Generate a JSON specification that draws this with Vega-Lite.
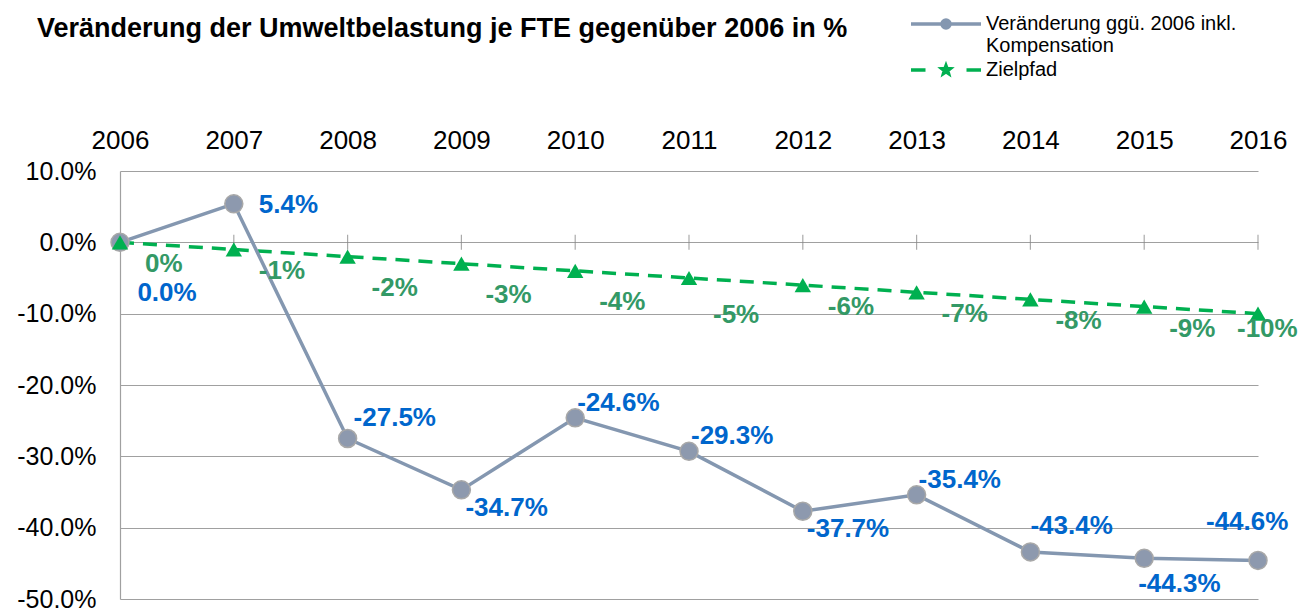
{
  "$schema": "https://vega.github.io/schema/vega-lite/v6.json",
  "width": 1138,
  "height": 428,
  "autosize": {"type": "none"},
  "padding": {"left": 120, "top": 171, "right": 40, "bottom": 11},
  "background": "white",
  "config": {"view": {"stroke": null}},
  "title": {
    "text": "Veränderung der Umweltbelastung je FTE gegenüber 2006 in %",
    "anchor": "start",
    "frame": "group",
    "dx": -83,
    "offset": -50,
    "baseline": "alphabetic",
    "font": "Liberation Sans",
    "fontSize": 27,
    "fontWeight": "bold",
    "color": "#000000"
  },
  "data": {
    "values": [
      {"year": 2006, "series": "Veränderung ggü. 2006 inkl. Kompensation", "value": 0.0},
      {"year": 2007, "series": "Veränderung ggü. 2006 inkl. Kompensation", "value": 5.4},
      {"year": 2008, "series": "Veränderung ggü. 2006 inkl. Kompensation", "value": -27.5},
      {"year": 2009, "series": "Veränderung ggü. 2006 inkl. Kompensation", "value": -34.7},
      {"year": 2010, "series": "Veränderung ggü. 2006 inkl. Kompensation", "value": -24.6},
      {"year": 2011, "series": "Veränderung ggü. 2006 inkl. Kompensation", "value": -29.3},
      {"year": 2012, "series": "Veränderung ggü. 2006 inkl. Kompensation", "value": -37.7},
      {"year": 2013, "series": "Veränderung ggü. 2006 inkl. Kompensation", "value": -35.4},
      {"year": 2014, "series": "Veränderung ggü. 2006 inkl. Kompensation", "value": -43.4},
      {"year": 2015, "series": "Veränderung ggü. 2006 inkl. Kompensation", "value": -44.3},
      {"year": 2016, "series": "Veränderung ggü. 2006 inkl. Kompensation", "value": -44.6},
      {"year": 2006, "series": "Zielpfad", "value": 0},
      {"year": 2007, "series": "Zielpfad", "value": -1},
      {"year": 2008, "series": "Zielpfad", "value": -2},
      {"year": 2009, "series": "Zielpfad", "value": -3},
      {"year": 2010, "series": "Zielpfad", "value": -4},
      {"year": 2011, "series": "Zielpfad", "value": -5},
      {"year": 2012, "series": "Zielpfad", "value": -6},
      {"year": 2013, "series": "Zielpfad", "value": -7},
      {"year": 2014, "series": "Zielpfad", "value": -8},
      {"year": 2015, "series": "Zielpfad", "value": -9},
      {"year": 2016, "series": "Zielpfad", "value": -10}
    ]
  },
  "transform": [
    {"calculate": "(datum.value < 0 ? '-' : '') + format(abs(datum.value), datum.series == 'Zielpfad' ? 'd' : '.1f') + '%'", "as": "lbl"}
  ],
  "encoding": {
    "x": {
      "field": "year", "type": "quantitative",
      "scale": {"domain": [2006, 2016], "nice": false, "zero": false},
      "axis": {
        "orient": "top", "values": [2006, 2007, 2008, 2009, 2010, 2011, 2012, 2013, 2014, 2015, 2016],
        "format": "d", "title": null, "domain": false, "ticks": false, "grid": false,
        "labelFont": "Liberation Sans", "labelFontSize": 26, "labelColor": "#000000",
        "labelPadding": 18, "labelFlush": false, "labelOverlap": false
      }
    },
    "y": {
      "field": "value", "type": "quantitative",
      "scale": {"domain": [-50, 10], "nice": false, "zero": false},
      "axis": {
        "values": [-50, -40, -30, -20, -10, 0, 10],
        "labelExpr": "(datum.value < 0 ? '-' : '') + format(abs(datum.value), '.1f') + '%'",
        "title": null, "domain": true, "domainColor": "#A0A0A0", "domainWidth": 1.2,
        "ticks": false, "grid": true, "gridColor": "#A0A0A0", "gridWidth": 1.2,
        "labelFont": "Liberation Sans", "labelFontSize": 25, "labelColor": "#000000",
        "labelPadding": 24
      }
    }
  },
  "layer": [
    {
      "transform": [{"filter": "datum.series == 'Zielpfad'"}],
      "mark": {"type": "tick", "orient": "vertical", "size": 15, "thickness": 1.2, "color": "#868686"},
      "encoding": {"y": {"datum": 0}}
    },
    {
      "transform": [{"filter": "datum.series == 'Zielpfad'"}],
      "mark": {"type": "line", "color": "#00B050", "strokeWidth": 3.5, "strokeDash": [14, 9]}
    },
    {
      "transform": [{"filter": "datum.series != 'Zielpfad'"}],
      "mark": {"type": "line", "color": "#8497B0", "strokeWidth": 3.5}
    },
    {
      "transform": [{"filter": "datum.series != 'Zielpfad'"}],
      "mark": {"type": "point", "shape": "circle", "filled": true, "size": 324, "fill": "#8D99AE", "stroke": "#A8A8A8", "strokeWidth": 1.5, "opacity": 1}
    },
    {
      "transform": [{"filter": "datum.series == 'Zielpfad'"}],
      "mark": {"type": "point", "shape": "triangle-up", "filled": true, "size": 270, "color": "#00B050", "opacity": 1}
    },
    {
      "transform": [{"filter": "datum.series != 'Zielpfad' && datum.year == 2006"}],
      "mark": {"type": "text", "align": "center", "baseline": "middle", "dx": 47, "dy": 51, "font": "Liberation Sans", "fontSize": 26, "fontWeight": "bold", "color": "#0066CC"},
      "encoding": {"text": {"field": "lbl"}}
    },
    {
      "transform": [{"filter": "datum.series != 'Zielpfad' && datum.year == 2007"}],
      "mark": {"type": "text", "align": "left", "baseline": "middle", "dx": 25, "dy": 1, "font": "Liberation Sans", "fontSize": 26, "fontWeight": "bold", "color": "#0066CC"},
      "encoding": {"text": {"field": "lbl"}}
    },
    {
      "transform": [{"filter": "datum.series != 'Zielpfad' && datum.year == 2008"}],
      "mark": {"type": "text", "align": "left", "baseline": "middle", "dx": 6, "dy": -21, "font": "Liberation Sans", "fontSize": 26, "fontWeight": "bold", "color": "#0066CC"},
      "encoding": {"text": {"field": "lbl"}}
    },
    {
      "transform": [{"filter": "datum.series != 'Zielpfad' && (datum.year == 2009 || datum.year == 2012)"}],
      "mark": {"type": "text", "align": "left", "baseline": "middle", "dx": 4, "dy": 18, "font": "Liberation Sans", "fontSize": 26, "fontWeight": "bold", "color": "#0066CC"},
      "encoding": {"text": {"field": "lbl"}}
    },
    {
      "transform": [{"filter": "datum.series != 'Zielpfad' && (datum.year == 2010 || datum.year == 2011 || datum.year == 2013)"}],
      "mark": {"type": "text", "align": "left", "baseline": "middle", "dx": 2, "dy": -15, "font": "Liberation Sans", "fontSize": 26, "fontWeight": "bold", "color": "#0066CC"},
      "encoding": {"text": {"field": "lbl"}}
    },
    {
      "transform": [{"filter": "datum.series != 'Zielpfad' && datum.year == 2014"}],
      "mark": {"type": "text", "align": "left", "baseline": "middle", "dx": 0, "dy": -26, "font": "Liberation Sans", "fontSize": 26, "fontWeight": "bold", "color": "#0066CC"},
      "encoding": {"text": {"field": "lbl"}}
    },
    {
      "transform": [{"filter": "datum.series != 'Zielpfad' && datum.year == 2015"}],
      "mark": {"type": "text", "align": "left", "baseline": "middle", "dx": -6, "dy": 26, "font": "Liberation Sans", "fontSize": 26, "fontWeight": "bold", "color": "#0066CC"},
      "encoding": {"text": {"field": "lbl"}}
    },
    {
      "transform": [{"filter": "datum.series != 'Zielpfad' && datum.year == 2016"}],
      "mark": {"type": "text", "align": "left", "baseline": "middle", "dx": -52, "dy": -38, "font": "Liberation Sans", "fontSize": 26, "fontWeight": "bold", "color": "#0066CC"},
      "encoding": {"text": {"field": "lbl"}}
    },
    {
      "transform": [{"filter": "datum.series == 'Zielpfad' && (datum.year <= 2007 || (datum.year >= 2012 && datum.year <= 2015))"}],
      "mark": {"type": "text", "align": "left", "baseline": "middle", "dx": 25, "dy": 22, "font": "Liberation Sans", "fontSize": 26, "fontWeight": "bold", "color": "#339966"},
      "encoding": {"text": {"field": "lbl"}}
    },
    {
      "transform": [{"filter": "datum.series == 'Zielpfad' && datum.year >= 2008 && datum.year <= 2010"}],
      "mark": {"type": "text", "align": "left", "baseline": "middle", "dx": 24, "dy": 31.5, "font": "Liberation Sans", "fontSize": 26, "fontWeight": "bold", "color": "#339966"},
      "encoding": {"text": {"field": "lbl"}}
    },
    {
      "transform": [{"filter": "datum.series == 'Zielpfad' && datum.year == 2011"}],
      "mark": {"type": "text", "align": "left", "baseline": "middle", "dx": 24, "dy": 37, "font": "Liberation Sans", "fontSize": 26, "fontWeight": "bold", "color": "#339966"},
      "encoding": {"text": {"field": "lbl"}}
    },
    {
      "transform": [{"filter": "datum.series == 'Zielpfad' && datum.year == 2016"}],
      "mark": {"type": "text", "align": "left", "baseline": "middle", "dx": -21, "dy": 15, "font": "Liberation Sans", "fontSize": 26, "fontWeight": "bold", "color": "#339966"},
      "encoding": {"text": {"field": "lbl"}}
    },
    {
      "mark": {"type": "point", "filled": true, "size": 100, "opacity": 0},
      "encoding": {
        "color": {
          "field": "series", "type": "nominal",
          "scale": {"domain": ["Veränderung ggü. 2006 inkl. Kompensation", "Zielpfad"], "range": ["#8497B0", "#00B050"]},
          "legend": {
            "orient": "none", "legendX": 816, "legendY": -157, "title": null, "padding": 0,
            "symbolSize": 100, "labelFont": "Liberation Sans", "labelFontSize": 20, "labelColor": "#000000",
            "labelOffset": 30, "labelLimit": 500, "rowPadding": 2,
            "labelExpr": "datum.label == 'Zielpfad' ? 'Zielpfad' : ['Veränderung ggü. 2006 inkl.', 'Kompensation']",
            "encode": {
              "labels": {"update": {"lineHeight": {"value": 22}}},
              "symbols": {"update": {
                "fill": {"scale": "color", "field": "value"},
                "stroke": {"scale": "color", "field": "value"},
                "strokeWidth": {"value": 3.5},
                "opacity": {"value": 1},
                "fillOpacity": {"value": 1},
                "strokeOpacity": {"value": 1}
              }}
            }
          }
        },
        "shape": {
          "field": "series", "type": "nominal",
          "scale": {"domain": ["Veränderung ggü. 2006 inkl. Kompensation", "Zielpfad"], "range": [
            "M-7,0H7M-0.8,0A0.8,0.8,0,1,0,0.8,0A0.8,0.8,0,1,0,-0.8,0Z",
            "M-7,0H-4.1M4.1,0H7M0,-0.85L0.212,-0.291L0.808,-0.263L0.342,0.111L0.5,0.688L0,0.36L-0.5,0.688L-0.342,0.111L-0.808,-0.263L-0.212,-0.291Z"
          ]}
        }
      }
    }
  ]
}
